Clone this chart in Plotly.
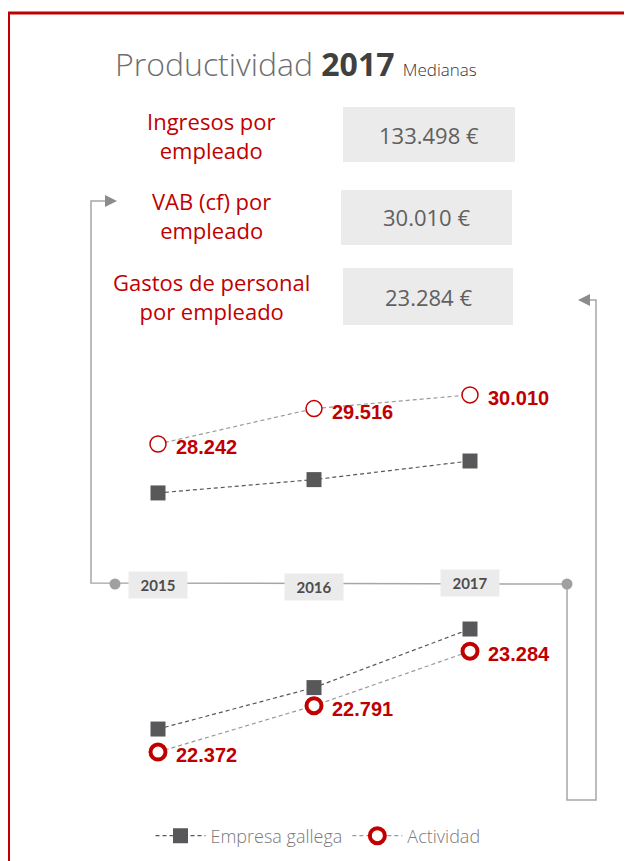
import plotly.graph_objects as go

# data
years = [2015, 2016, 2017]
vab_actividad = [28242, 29516, 30010]
vab_gallega = [26480, 26960, 27630]
gastos_actividad = [22372, 22791, 23284]
gastos_gallega = [22580, 22955, 23485]

kpi_labels = ['Ingresos por<br>empleado', 'VAB (cf) por<br>empleado',
              'Gastos de personal<br>por empleado']
kpi_values = ['133.498 €', '30.010 €', '23.284 €']

# the page body keeps an 8px margin, so the figure is drawn 8px in
OFF = 8
W, H = 632 - OFF, 861 - OFF
RED = '#c00000'
GREY_LINE = '#a6a6a6'
FONT = 'Open Sans'


def px(x):
    return (x - OFF) / W


def py(y):
    return 1 - (y - OFF) / H


def fmt(v):
    return f'{v:,}'.replace(',', '.')


fig = go.Figure()

panels = [
    ('x', 'y', vab_gallega, vab_actividad, 1.5, False),
    ('x2', 'y2', gastos_gallega, gastos_actividad, 4, True),
]
for xa, ya, gal, act, ring, legend in panels:
    fig.add_trace(go.Scatter(
        x=years, y=gal, xaxis=xa, yaxis=ya, name='Empresa gallega',
        mode='lines+markers', showlegend=legend,
        line=dict(color='#58585a', width=1.2, dash='4px,3px'),
        marker=dict(symbol='square', size=15, color='#58585a'),
    ))
    fig.add_trace(go.Scatter(
        x=years, y=act, xaxis=xa, yaxis=ya, name='Actividad',
        mode='lines+markers', showlegend=legend,
        line=dict(color='#9a9a9a', width=1.2, dash='4px,3px'),
        marker=dict(symbol='circle', size=16 if ring < 2 else 15, color='white',
                    line=dict(color=RED, width=ring)),
    ))
    for yr, v in zip(years, act):
        fig.add_annotation(
            x=yr, y=v, xref=xa, yref=ya, text=fmt(v), showarrow=False,
            xanchor='left', yanchor='middle', xshift=16, yshift=-3,
            font=dict(family='Liberation Sans', size=20, color=RED, weight='bold'),
        )

# year labels on the timeline
for yr, dy in zip(years, [585, 587, 583]):
    fig.add_annotation(
        x=yr, y=py(dy), xref='x', yref='paper', text=f'<b>{yr}</b>',
        showarrow=False, xanchor='center', yanchor='middle',
        bgcolor='#ebebeb', width=54, height=22, borderpad=2,
        font=dict(family='Lato', size=15, color='#4d4d4d'),
    )

# title
fig.add_annotation(
    x=px(113), y=py(63), xref='paper', yref='paper', xanchor='left',
    yanchor='middle', showarrow=False,
    text=("Productividad <b style='color:#404040'>2017</b> "
          "<span style='font-size:17px;color:#333333'>Medianas</span>"),
    font=dict(family=FONT, size=32, color='#6e6e6e', weight=300),
)

# KPI rows
for lab, val, yc, box in zip(kpi_labels, kpi_values, [135, 216, 296],
                             [(343, 107, 515, 162), (341, 190, 512, 245),
                              (343, 268, 513, 325)]):
    fig.add_annotation(
        x=px(211), y=py(yc), xref='paper', yref='paper', text=lab,
        showarrow=False, align='center', xanchor='center', yanchor='middle',
        font=dict(family=FONT, size=22, color=RED, weight=500),
    )
    fig.add_shape(type='rect', xref='paper', yref='paper',
                  x0=px(box[0]), x1=px(box[2]), y0=py(box[1]), y1=py(box[3]),
                  fillcolor='#ebebeb', line=dict(width=0), layer='below')
    fig.add_annotation(
        x=px((box[0] + box[2]) / 2), y=py((box[1] + box[3]) / 2),
        xref='paper', yref='paper', text=val, showarrow=False,
        xanchor='center', yanchor='middle',
        font=dict(family=FONT, size=22, color='#606060'),
    )

# red frame
fig.add_shape(type='path', xref='paper', yref='paper',
              path=f'M {px(640)},{py(13)} L {px(8.5)},{py(13)} L {px(8.5)},{py(870)}',
              line=dict(color=RED, width=3))

# connectors
fig.add_shape(type='path', xref='paper', yref='paper',
              path=(f'M {px(108)},{py(201)} L {px(91)},{py(201)} '
                    f'L {px(91)},{py(583)} L {px(567)},{py(584)} '
                    f'L {px(567)},{py(800)} L {px(596)},{py(800)} '
                    f'L {px(596)},{py(300)} L {px(586)},{py(300)}'),
              line=dict(color=GREY_LINE, width=1.5))
fig.add_shape(type='path', xref='paper', yref='paper',
              path=f'M {px(105)},{py(195)} L {px(117)},{py(201)} L {px(105)},{py(207)} Z',
              fillcolor='#8c8c8c', line=dict(width=0))
fig.add_shape(type='path', xref='paper', yref='paper',
              path=f'M {px(590)},{py(294)} L {px(578)},{py(300)} L {px(590)},{py(306)} Z',
              fillcolor='#8c8c8c', line=dict(width=0))
for cx in [115, 567]:
    fig.add_shape(type='circle', xref='paper', yref='paper',
                  x0=px(cx - 5.5), x1=px(cx + 5.5), y0=py(584 - 5.5), y1=py(584 + 5.5),
                  fillcolor='#a0a0a0', line=dict(width=0))

# 2015 at 158px, 2016 at 313px, 2017 at 470px
x_rng = [2015 - (158 - OFF) / 156, 2015 + (632 - 158) / 156]
axis_off = dict(visible=False, showgrid=False, zeroline=False)
fig.update_layout(
    width=W, height=H,
    margin=dict(l=0, r=0, t=0, b=0),
    paper_bgcolor='white', plot_bgcolor='rgba(0,0,0,0)',
    xaxis=dict(domain=[0, 1], range=x_rng, **axis_off),
    xaxis2=dict(domain=[0, 1], range=x_rng, anchor='y2', **axis_off),
    yaxis=dict(domain=[py(540), py(360)], range=[24786, 31266], **axis_off),
    yaxis2=dict(domain=[py(780), py(610)], range=[22119, 23657], anchor='x2', **axis_off),
    legend=dict(orientation='h', x=px(318), xanchor='center', y=py(836), yanchor='middle',
                font=dict(family=FONT, size=18, color='#7a7a7a', weight=300),
                itemwidth=50, bgcolor='rgba(0,0,0,0)'),
)

fig.write_html('out.html')
